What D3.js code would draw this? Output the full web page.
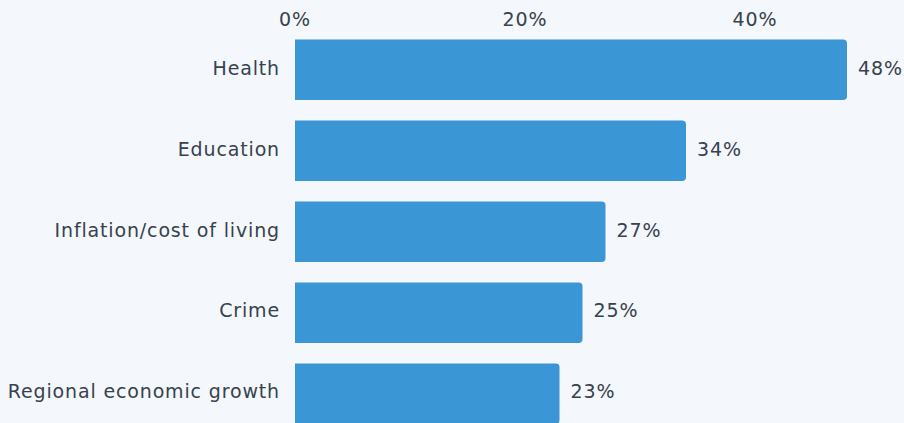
<!DOCTYPE html>
<html><head><meta charset="utf-8">
<script src="https://cdn.jsdelivr.net/npm/d3@7"></script>
<style>
html,body{margin:0;padding:0;background:#f4f7fc;overflow:hidden;}
svg{display:block;}
text{font-family:"DejaVu Sans", sans-serif;letter-spacing:0.85px;}
</style></head>
<body>
<svg id="chart" width="904" height="423"></svg>
<script>
const categories = ["Health","Education","Inflation/cost of living","Crime","Regional economic growth"];
const values = [48,34,27,25,23];
const tickValues = [0,20,40];

const W = 904, H = 423;
const x0 = 295, pxPer20 = 230;
const svg = d3.select("#chart");
svg.append("rect").attr("width",W).attr("height",H).attr("fill","#f4f7fc");

const x = d3.scaleLinear().domain([0,20]).range([x0, x0+pxPer20]);
const y = d3.scaleBand().domain(categories).range([39.5, 424]).paddingInner(0.253).paddingOuter(0);

const textColor = "#37424d";
const fs = 19;

// top axis labels
svg.append("g").selectAll("text").data(tickValues).join("text")
  .attr("x", d=>x(d)).attr("y", 26)
  .attr("text-anchor","middle")
  .attr("font-size",fs).attr("fill",textColor)
  .text(d=>d+"%");

const r = 4;
function barPath(d,i){
  const xl = x(0), xr = x(d), yt = y(categories[i]), h = y.bandwidth(), yb = yt+h;
  return `M${xl},${yt}H${xr-r}Q${xr},${yt} ${xr},${yt+r}V${yb-r}Q${xr},${yb} ${xr-r},${yb}H${xl}Z`;
}
svg.append("g").selectAll("path").data(values).join("path")
  .attr("d", barPath).attr("fill","#3a96d4");

// value labels
svg.append("g").selectAll("text").data(values).join("text")
  .attr("x", d=>x(d)+11)
  .attr("y", (d,i)=>y(categories[i])+y.bandwidth()/2)
  .attr("dy","0.25em")
  .attr("font-size",fs).attr("fill",textColor)
  .text(d=>d+"%");

// category labels
svg.append("g").selectAll("text").data(categories).join("text")
  .attr("x", x0-15)
  .attr("y", d=>y(d)+y.bandwidth()/2)
  .attr("dy","0.25em")
  .attr("text-anchor","end")
  .attr("font-size",fs).attr("fill",textColor)
  .text(d=>d);
</script>
</body></html>
